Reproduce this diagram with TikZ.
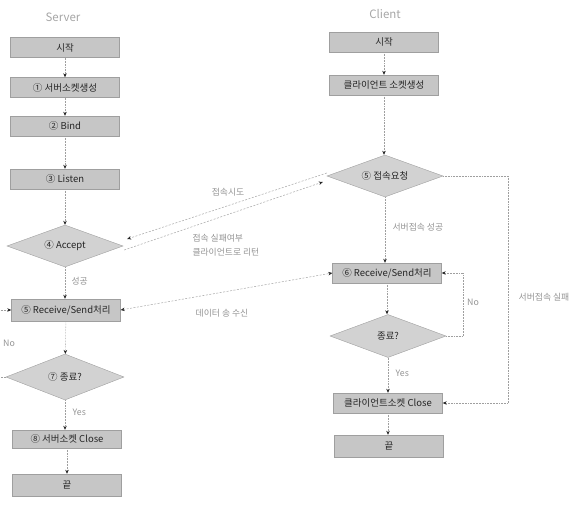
\documentclass[tikz,border=0pt]{standalone}
\usepackage{fontspec}
\setmainfont{Noto Sans CJK KR}
\usetikzlibrary{shapes.geometric,arrows.meta}

\begin{document}
\begin{tikzpicture}[x=1pt,y=-1pt,
  >={Stealth[length=4pt,width=3.5pt,color=black!85]},
  procbox/.style={draw=gray!75, fill=gray!45, minimum width=109pt, minimum height=20pt,
    inner sep=0pt, font=\fontsize{9.5}{11}\selectfont, text=black!85},
  decision/.style={diamond, aspect=3, draw=gray!75, fill=gray!35, inner sep=0pt,
    minimum width=116pt, minimum height=42pt, font=\fontsize{9.5}{11}\selectfont, text=black!85},
  title/.style={font=\fontsize{11.5}{13}\selectfont, text=gray!70},
  lbl/.style={font=\fontsize{8.8}{10}\selectfont, text=gray!85},
  flowline/.style={draw=gray!75, densely dotted, line width=0.55pt, ->},
  msgline/.style={draw=gray!65, dash pattern=on 2pt off 1.5pt, line width=0.55pt}
]
\useasboundingbox (0,0) rectangle (576,508);

% ---- server side ----
\node[title] (stitle) at (63,17) {Server};
\node[procbox] (s0) at (65,47.5) {시작};
\node[procbox] (s1) at (65,87.5) {① 서버소켓생성};
\node[procbox] (s2) at (65,126) {② Bind};
\node[procbox] (s3) at (65,179) {③ Listen};
\node[decision] (s4) at (65,246) {④ Accept};
\node[procbox, minimum height=22pt] (s5) at (66,310) {⑤ Receive/Send처리};
\node[decision, minimum width=118pt, minimum height=46pt] (s7) at (65,377) {⑦ 종료?};
\node[procbox, minimum height=18pt] (s8) at (67,439) {⑧ 서버소켓 Close};
\node[procbox, minimum height=22pt] (s9) at (67,485) {끝};

\draw[flowline] (s0) -- (s1);
\draw[flowline] (s1) -- (s2);
\draw[flowline] (s2) -- (s3);
\draw[flowline] (s3) -- (s4);
\draw[flowline] (s4) -- node[lbl, right=3pt, pos=0.45] (lsucc) {성공} (s5.north -| s4.south);
\draw[flowline] (s5) -- (s7);
\draw[flowline] (s7) -- node[lbl, right=4pt, pos=0.4] (lsyes) {Yes} (s8.north -| s7.south);
\draw[flowline] (s8) -- (s9.north -| s8.south);
\draw[flowline] (s7.west) -- ++(-14,0) |- (s5.west);
\node[lbl] (lsno) at (9,343) {No};

% ---- client side ----
\node[title] (ctitle) at (385,14) {Client};
\node[procbox] (c0) at (384,42) {시작};
\node[procbox] (c1) at (384,85) {클라이언트 소켓생성};
\node[decision] (c2) at (385,176) {⑤ 접속요청};
\node[procbox] (c3) at (387,273) {⑥ Receive/Send처리};
\node[decision, minimum height=43pt] (c4) at (388,336) {종료?};
\node[procbox] (c5) at (388,403) {클라이언트소켓 Close};
\node[procbox, minimum height=22pt] (c6) at (389,446) {끝};

\draw[flowline] (c0) -- (c1);
\draw[flowline] (c1) -- (c2.north -| c1.south);
\draw[flowline] (c2) -- node[lbl, right=4pt, pos=0.45] (lcok) {서버접속 성공} (c3.north -| c2.south);
\draw[flowline] (c3) -- (c4.north -| c3.south);
\draw[flowline] (c4) -- node[lbl, right=4pt, pos=0.45] (lcyes) {Yes} (c5.north -| c4.south);
\draw[flowline] (c5) -- (c6.north -| c5.south);
\draw[flowline] (c4.east) -- ++(17,0) |- (c3.east);
\node[lbl] (lcno) at (473,302) {No};
\draw[flowline] (c2.east) -- ++(65,0) |- (c5.east);
\node[lbl] (lcfail) at (544,297) {서버접속 실패};

% ---- messages between the two sides ----
\draw[msgline, ->] ([yshift=3pt]c2.west) -- ([xshift=4pt,yshift=7pt]s4.east);
\draw[msgline, ->] ([xshift=1pt,yshift=-4pt]s4.east) -- ([xshift=-4pt,yshift=-6pt]c2.west);
\draw[msgline, <->] (s5.east) -- (c3.west);
\node[lbl] (lreq) at (228,192) {접속시도};
\node[lbl, anchor=west] (lret1) at (189,238) {접속 실패여부};
\node[lbl, anchor=west] (lret2) at (189,252) {클라이언트로 리턴};
\node[lbl] (ldata) at (222,313) {데이터 송 수신};
\end{tikzpicture}
\end{document}
